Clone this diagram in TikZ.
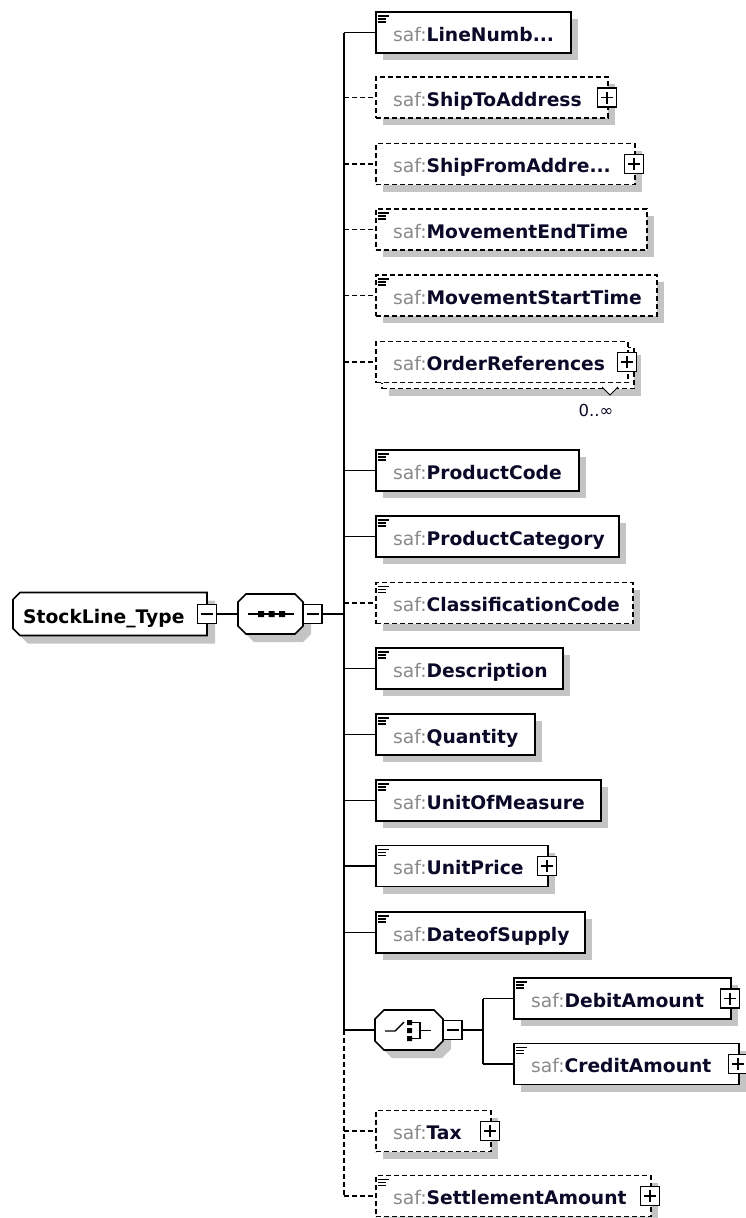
\documentclass[tikz,border=0pt]{standalone}
\usepackage{fontspec}
\setmainfont{DejaVu Sans}
\usetikzlibrary{calc}
\definecolor{shadowc}{HTML}{C4C4C4}
\definecolor{pfx}{HTML}{8A8A8A}
\definecolor{nm}{HTML}{0A0A28}
\tikzset{
  req/.style={rectangle, draw=black, fill=white, line width=1.6pt, inner sep=0pt},
  opt/.style={req, dash pattern=on 5pt off 3pt},
  lbl/.style={inner sep=0pt, font=\fontsize{18.7}{21}\selectfont, text=nm},
  pmbox/.style={rectangle, draw=black, fill=white, line width=1.5pt, minimum size=19pt, inner sep=0pt},
  pmline/.style={line width=1.5pt},
  docic/.style={line width=1.1pt},
  conn/.style={line width=1.6pt},
  optd/.style={dash pattern=on 5pt off 3pt},
  comp/.style={inner sep=0pt},
  compline/.style={draw=black, fill=white, line width=1.6pt}
}
% #1 name, #2 xleft, #3 cy, #4 width, #5 style, #6 label, #7 doc flag, #8 plus flag
\newcommand\mkelem[8]{%
  \fill[shadowc] (#2+8,#3-13.5) rectangle ++(#4,41);
  \node[#5, minimum width=#4pt, minimum height=41pt, anchor=west] (#1) at (#2,#3) {};
  \node[lbl, anchor=base west] (#1-t) at (#2+18,#3+8.5) {\textcolor{pfx}{saf:}\textbf{#6}};
  \ifnum#7=1 \draw[docic] (#2+3,#3-16.5) -- ++(11,0) (#2+3,#3-13.5) -- ++(8,0) (#2+3,#3-10.5) -- ++(8,0);\fi
  \ifnum#8=1 \node[pmbox] (#1-p) at (#2+#4,#3) {};
    \draw[pmline] ($(#1-p.center)+(-6,0)$) -- ($(#1-p.center)+(6,0)$) ($(#1-p.center)+(0,-6)$) -- ($(#1-p.center)+(0,6)$);\fi
}
\begin{document}
\begin{tikzpicture}[x=1pt,y=-1pt]
\useasboundingbox (0,0) rectangle (745,1218);

% root
\fill[shadowc, shift={(8,8)}] (20,592.5) -- (207,592.5) -- (207,635.5) -- (20,635.5) -- (13,628.5) -- (13,599.5) -- cycle;
\path[compline] (20,592.5) -- (207,592.5) -- (207,635.5) -- (20,635.5) -- (13,628.5) -- (13,599.5) -- cycle;
\node[comp, minimum width=194pt, minimum height=43pt] (root) at (110,614) {};
\node[lbl, anchor=base west, text=black] (root-t) at (23,623) {\textbf{StockLine\_Type}};
\node[pmbox] (root-m) at (207,614) {};
\draw[pmline] ($(root-m.center)+(-6,0)$) -- ($(root-m.center)+(6,0)$);

% sequence
\fill[shadowc, shift={(8,8)}] (246,594) -- (295,594) -- (303,602) -- (303,626) -- (295,634) -- (246,634) -- (238,626) -- (238,602) -- cycle;
\path[compline] (246,594) -- (295,594) -- (303,602) -- (303,626) -- (295,634) -- (246,634) -- (238,626) -- (238,602) -- cycle;
\node[comp, minimum width=65pt, minimum height=40pt] (seq) at (270.5,614) {};
\draw[line width=1.4pt] (248,614) -- (294,614);
\fill (258,611) rectangle ++(6,6) (268.5,611) rectangle ++(6,6) (279,611) rectangle ++(6,6);
\node[pmbox] (seq-m) at (312.5,614) {};
\draw[pmline] ($(seq-m.center)+(-6,0)$) -- ($(seq-m.center)+(6,0)$);

% trunk coordinates
\coordinate (ttop) at (344,32.5);
\coordinate (tseq) at (344,614);
\coordinate (tch) at (344,1030);
\coordinate (tbot) at (344,1196);

% elements
\mkelem{n1}{375}{32.5}{195}{req}{LineNumb...}{1}{0}
\mkelem{n2}{375}{97.5}{232}{opt}{ShipToAddress}{0}{1}
\mkelem{n3}{375}{164}{259}{opt}{ShipFromAddre...}{0}{1}
\mkelem{n4}{375}{229.5}{271}{opt}{MovementEndTime}{1}{0}
\mkelem{n5}{375}{295.5}{281}{opt}{MovementStartTime}{1}{0}

% OrderReferences (multiple)
\fill[shadowc] (389,354.5) rectangle ++(252,41);
\node[opt, minimum width=252pt, minimum height=41pt, anchor=west] (n6b) at (381,368) {};
\node[opt, minimum width=252pt, minimum height=41pt, anchor=west] (n6) at (375,362) {};
\node[lbl, anchor=base west] (n6-t) at (393,370.5) {\textcolor{pfx}{saf:}\textbf{OrderReferences}};
\node[pmbox] (n6-p) at (627,362) {};
\draw[pmline] ($(n6-p.center)+(-6,0)$) -- ($(n6-p.center)+(6,0)$) ($(n6-p.center)+(0,-6)$) -- ($(n6-p.center)+(0,6)$);
\draw[line width=0.9pt, fill=white] (602,387) -- (610,395) -- (618,387);
\node[inner sep=0pt, font=\fontsize{16.5}{18}\selectfont, text=nm] (n6-m) at (596,410) {0..∞};

\mkelem{n7}{375}{470.5}{203}{req}{ProductCode}{1}{0}
\mkelem{n8}{375}{536.5}{243}{req}{ProductCategory}{1}{0}
\mkelem{n9}{375}{603}{257}{opt}{ClassificationCode}{1}{0}
\mkelem{n10}{375}{668.5}{187}{req}{Description}{1}{0}
\mkelem{n11}{375}{734.5}{159}{req}{Quantity}{1}{0}
\mkelem{n12}{375}{800.5}{225}{req}{UnitOfMeasure}{1}{0}
\mkelem{n13}{375}{866}{172}{req}{UnitPrice}{1}{1}
\mkelem{n14}{375}{932.5}{209}{req}{DateofSupply}{1}{0}

% choice
\fill[shadowc, shift={(8,8)}] (384,1010) -- (434,1010) -- (443,1019) -- (443,1041) -- (434,1050) -- (384,1050) -- (375,1041) -- (375,1019) -- cycle;
\path[compline] (384,1010) -- (434,1010) -- (443,1019) -- (443,1041) -- (434,1050) -- (384,1050) -- (375,1041) -- (375,1019) -- cycle;
\node[comp, minimum width=68pt, minimum height=40pt] (choice) at (409,1030) {};
\draw[line width=1.4pt] (385,1031) -- (395,1031) -- (404,1022);
\fill (407,1020) rectangle ++(5,5) (407,1028) rectangle ++(5,5) (407,1036) rectangle ++(5,5);
\draw[line width=1.4pt] (412,1022.5) -- (420,1022.5) -- (420,1038.5) -- (412,1038.5) (420,1030.5) -- (431,1030.5);
\node[pmbox] (choice-m) at (452.5,1030) {};
\draw[pmline] ($(choice-m.center)+(-6,0)$) -- ($(choice-m.center)+(6,0)$);
\coordinate (br) at (483,1030);

\mkelem{n15}{513}{998.5}{217}{req}{DebitAmount}{1}{1}
\mkelem{n16}{513}{1064}{225}{req}{CreditAmount}{1}{1}
\mkelem{n17}{375}{1131}{115}{opt}{Tax}{0}{1}
\mkelem{n18}{375}{1196}{275}{opt}{SettlementAmount}{1}{1}

% connectors
\draw[conn] (root-m.east) -- (seq.west);
\draw[conn] (seq-m.east) -- (tseq);
\draw[conn] (ttop) -- (tch);
\draw[conn, optd] (tch) -- (tbot);
\foreach \n in {n1,n7,n8,n10,n11,n12,n13,n14} {\draw[conn] (\n.west -| tch) -- (\n.west);}
\foreach \n in {n2,n3,n4,n5,n6,n9,n17,n18} {\draw[conn, optd] (\n.west -| tch) -- (\n.west);}
\draw[conn] (tch) -- (choice.west);
\draw[conn] (choice-m.east) -- (br);
\draw[conn] (n15.west -| br) -- (n16.west -| br);
\draw[conn] (n15.west -| br) -- (n15.west);
\draw[conn] (n16.west -| br) -- (n16.west);
\end{tikzpicture}
\end{document}
